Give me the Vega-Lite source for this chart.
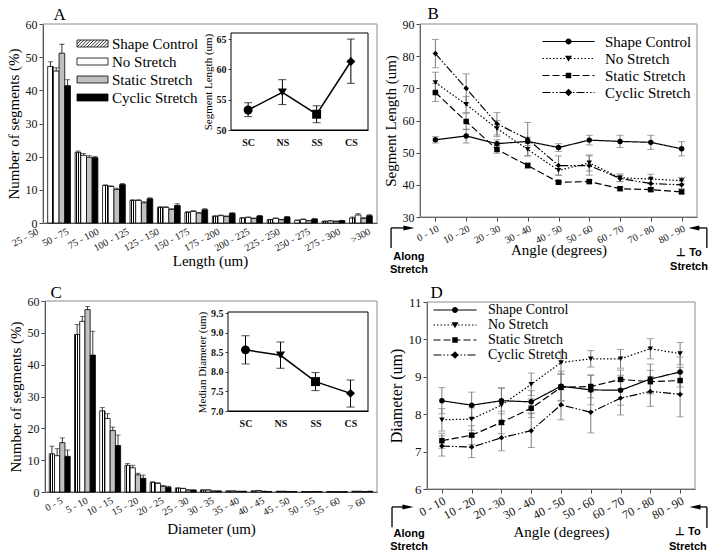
{
"$schema": "https://vega.github.io/schema/vega-lite/v6.json",
"width": 715, "height": 558, "autosize": "none", "padding": 0, "background": "white",
"config": {
  "view": {"stroke": null},
  "font": "Liberation Serif",
  "axis": {"grid": false, "zindex": 1, "labelFont": "Liberation Serif", "titleFont": "Liberation Serif", "labelColor": "#111", "titleColor": "#000", "titleFontWeight": "normal", "domainColor": "#444", "tickColor": "#444", "labelFontSize": 12, "titleFontSize": 15, "tickSize": 4},
  "legend": {"labelFont": "Liberation Serif", "labelColor": "#000", "padding": 0}
},
"resolve": {"scale": {"x": "independent", "y": "independent", "xOffset": "independent", "color": "independent", "shape": "independent", "strokeDash": "independent"}},
"layer": [
{
  "data": {"values": [{"f": 0}]},
  "mark": {"type": "rect", "fill": "white", "fillOpacity": 0, "stroke": "#8a8a8a", "strokeWidth": 1},
  "encoding": {
    "x": {"datum": 0, "type": "quantitative", "scale": {"domain": [0, 1], "range": [43, 377]}, "axis": {"orient": "top", "offset": -24, "domain": false, "ticks": false, "labels": false, "title": "A", "titleFontSize": 17, "titleAlign": "left", "titleBaseline": "alphabetic", "titleX": 53, "titleY": -5}},
    "x2": {"datum": 1},
    "y": {"datum": 0, "type": "quantitative", "scale": {"domain": [0, 1], "range": [223, 24]}, "axis": null},
    "y2": {"datum": 1}
  }
},
{
  "data": {"values": [
    {"cat": "25 - 50", "cond": "Shape Control", "v": 47.2, "hi": 48.6}, {"cat": "25 - 50", "cond": "No Stretch", "v": 45.8, "hi": 46.8}, {"cat": "25 - 50", "cond": "Static Stretch", "v": 51.2, "hi": 53.9}, {"cat": "25 - 50", "cond": "Cyclic Stretch", "v": 41.4, "hi": 43.2},
    {"cat": "50 - 75", "cond": "Shape Control", "v": 21.3, "hi": 21.7}, {"cat": "50 - 75", "cond": "No Stretch", "v": 20.4, "hi": 21.0}, {"cat": "50 - 75", "cond": "Static Stretch", "v": 19.8, "hi": 20.3}, {"cat": "50 - 75", "cond": "Cyclic Stretch", "v": 19.7, "hi": 20.1},
    {"cat": "75 - 100", "cond": "Shape Control", "v": 11.3, "hi": 11.5}, {"cat": "75 - 100", "cond": "No Stretch", "v": 11.0, "hi": 11.2}, {"cat": "75 - 100", "cond": "Static Stretch", "v": 10.1, "hi": 10.5}, {"cat": "75 - 100", "cond": "Cyclic Stretch", "v": 11.6, "hi": 11.9},
    {"cat": "100 - 125", "cond": "Shape Control", "v": 6.8, "hi": 7.0}, {"cat": "100 - 125", "cond": "No Stretch", "v": 6.8, "hi": 7.0}, {"cat": "100 - 125", "cond": "Static Stretch", "v": 6.1, "hi": 6.4}, {"cat": "100 - 125", "cond": "Cyclic Stretch", "v": 7.3, "hi": 7.6},
    {"cat": "125 - 150", "cond": "Shape Control", "v": 4.7, "hi": 4.9}, {"cat": "125 - 150", "cond": "No Stretch", "v": 4.7, "hi": 4.9}, {"cat": "125 - 150", "cond": "Static Stretch", "v": 4.1, "hi": 4.3}, {"cat": "125 - 150", "cond": "Cyclic Stretch", "v": 5.3, "hi": 5.8},
    {"cat": "150 - 175", "cond": "Shape Control", "v": 3.2, "hi": 3.4}, {"cat": "150 - 175", "cond": "No Stretch", "v": 3.5, "hi": 3.7}, {"cat": "150 - 175", "cond": "Static Stretch", "v": 3.0, "hi": 3.2}, {"cat": "150 - 175", "cond": "Cyclic Stretch", "v": 4.0, "hi": 4.3},
    {"cat": "175 - 200", "cond": "Shape Control", "v": 2.0, "hi": 2.2}, {"cat": "175 - 200", "cond": "No Stretch", "v": 2.2, "hi": 2.4}, {"cat": "175 - 200", "cond": "Static Stretch", "v": 2.0, "hi": 2.1}, {"cat": "175 - 200", "cond": "Cyclic Stretch", "v": 2.9, "hi": 3.1},
    {"cat": "200 - 225", "cond": "Shape Control", "v": 1.5, "hi": 1.6}, {"cat": "200 - 225", "cond": "No Stretch", "v": 1.7, "hi": 1.8}, {"cat": "200 - 225", "cond": "Static Stretch", "v": 1.4, "hi": 1.5}, {"cat": "200 - 225", "cond": "Cyclic Stretch", "v": 2.1, "hi": 2.3},
    {"cat": "225 - 250", "cond": "Shape Control", "v": 1.0, "hi": 1.1}, {"cat": "225 - 250", "cond": "No Stretch", "v": 1.4, "hi": 1.5}, {"cat": "225 - 250", "cond": "Static Stretch", "v": 1.0, "hi": 1.1}, {"cat": "225 - 250", "cond": "Cyclic Stretch", "v": 1.8, "hi": 2.0},
    {"cat": "250 - 275", "cond": "Shape Control", "v": 0.8, "hi": 0.9}, {"cat": "250 - 275", "cond": "No Stretch", "v": 1.1, "hi": 1.2}, {"cat": "250 - 275", "cond": "Static Stretch", "v": 0.7, "hi": 0.8}, {"cat": "250 - 275", "cond": "Cyclic Stretch", "v": 1.2, "hi": 1.3},
    {"cat": "275 - 300", "cond": "Shape Control", "v": 0.5, "hi": 0.6}, {"cat": "275 - 300", "cond": "No Stretch", "v": 0.6, "hi": 0.7}, {"cat": "275 - 300", "cond": "Static Stretch", "v": 0.5, "hi": 0.6}, {"cat": "275 - 300", "cond": "Cyclic Stretch", "v": 0.7, "hi": 0.8},
    {"cat": ">300", "cond": "Shape Control", "v": 1.5, "hi": 1.8}, {"cat": ">300", "cond": "No Stretch", "v": 2.4, "hi": 2.8}, {"cat": ">300", "cond": "Static Stretch", "v": 1.4, "hi": 1.6}, {"cat": ">300", "cond": "Cyclic Stretch", "v": 2.2, "hi": 2.5}
  ]},
  "encoding": {
    "x": {"field": "cat", "type": "nominal", "scale": {"domain": ["25 - 50","50 - 75","75 - 100","100 - 125","125 - 150","150 - 175","175 - 200","200 - 225","225 - 250","250 - 275","275 - 300",">300"], "range": [43, 377], "paddingInner": 0.17, "paddingOuter": 0.17}, "axis": {"orient": "bottom", "offset": -335, "labels": false, "ticks": false, "title": null, "domainColor": "#222"}},
    "xOffset": {"field": "cond", "type": "nominal", "scale": {"domain": ["Shape Control","No Stretch","Static Stretch","Cyclic Stretch"]}},
    "y": {"field": "v", "type": "quantitative", "scale": {"domain": [0, 60], "range": [223, 24], "nice": false}, "axis": {"orient": "left", "offset": -43, "values": [0,10,20,30,40,50,60], "title": "Number of segments (%)", "domainColor": "#222"}}
  },
  "layer": [
    {"mark": {"type": "bar", "stroke": "#000", "strokeWidth": 0.8},
     "encoding": {"color": {
       "condition": {"test": "datum.cond === 'Shape Control'", "value": {"gradient":"linear","x1":0,"y1":0,"x2":1,"y2":0,"stops":[{"offset":0,"color":"#ffffff"},{"offset":0.18,"color":"#ffffff"},{"offset":0.18,"color":"#000000"},{"offset":0.32,"color":"#000000"},{"offset":0.32,"color":"#ffffff"},{"offset":0.5,"color":"#ffffff"},{"offset":0.5,"color":"#000000"},{"offset":0.64,"color":"#000000"},{"offset":0.64,"color":"#ffffff"},{"offset":0.82,"color":"#ffffff"},{"offset":0.82,"color":"#000000"},{"offset":0.96,"color":"#000000"},{"offset":0.96,"color":"#ffffff"},{"offset":1,"color":"#ffffff"}]}},
       "field": "cond", "type": "nominal",
       "scale": {"domain": ["Shape Control","No Stretch","Static Stretch","Cyclic Stretch"], "range": ["#ffffff", "#ffffff", "#c0c0c0", "#000000"]},
       "legend": {"orient": "none", "legendX": 85, "legendY": 36, "title": null, "symbolType": "M-3.1,-0.7H3.1V0.7H-3.1Z", "symbolSize": 100, "labelOffset": 12, "labelFontSize": 15, "rowPadding": 2, "symbolStrokeColor": "#000", "symbolStrokeWidth": 0.8, "padding": 0}
     }}},
    {"mark": {"type": "rule", "color": "#000", "strokeWidth": 0.8}, "encoding": {"y2": {"field": "hi"}}},
    {"mark": {"type": "tick", "color": "#000", "size": 5, "thickness": 0.8}, "encoding": {"y": {"field": "hi", "type": "quantitative"}}}
  ]
},
{
  "data": {"values": [{"cat": "25 - 50"},{"cat": "50 - 75"},{"cat": "75 - 100"},{"cat": "100 - 125"},{"cat": "125 - 150"},{"cat": "150 - 175"},{"cat": "175 - 200"},{"cat": "200 - 225"},{"cat": "225 - 250"},{"cat": "250 - 275"},{"cat": "275 - 300"},{"cat": ">300"}]},
  "mark": {"type": "point", "opacity": 0},
  "encoding": {
    "x": {"field": "cat", "type": "nominal", "scale": {"type": "point", "domain": ["25 - 50","50 - 75","75 - 100","100 - 125","125 - 150","150 - 175","175 - 200","200 - 225","225 - 250","250 - 275","275 - 300",">300"], "range": [35, 367], "padding": 0}, "axis": {"orient": "bottom", "offset": -335, "domain": false, "ticks": false, "labelAngle": -28, "labelFontSize": 10, "labelPadding": 3, "title": "Length (um)", "titleX": 210, "titleY": 30}}
  }
},
{
  "data": {"values": [{"cond": "Shape Control"}, {"cond": "No Stretch"}, {"cond": "Static Stretch"}, {"cond": "Cyclic Stretch"}]},
  "mark": {"type": "point", "filled": false, "color": "#000", "strokeWidth": 0.8, "opacity": 1, "clip": true},
  "encoding": {
    "x": {"datum": 0.5, "type": "quantitative", "scale": {"domain": [0, 1], "range": [0, 10]}, "axis": null},
    "y": {"datum": 0.5, "type": "quantitative", "scale": {"domain": [0, 1], "range": [-200, -100]}, "axis": null},
    "shape": {"field": "cond", "type": "nominal", "scale": {"domain": ["Shape Control","No Stretch","Static Stretch","Cyclic Stretch"], "range": ["M-3.1,0.06L-2.34,-0.7M-3.08,0.7L-1.68,-0.7M-2.42,0.7L-1.02,-0.7M-1.76,0.7L-0.36,-0.7M-1.1,0.7L0.3,-0.7M-0.44,0.7L0.96,-0.7M0.22,0.7L1.62,-0.7M0.88,0.7L2.28,-0.7M1.54,0.7L2.94,-0.7M2.2,0.7L3.1,-0.2M2.86,0.7L3.1,0.46", "M0,0L0,0", "M0,0L0,0", "M0,0L0,0"]},
      "legend": {"orient": "none", "legendX": 85, "legendY": 36, "title": null, "symbolSize": 100, "labelOffset": 12, "labelFontSize": 15, "rowPadding": 2, "labelOpacity": 0, "symbolStrokeColor": "#000", "symbolStrokeWidth": 0.8, "padding": 0}}
  }
},
{
  "data": {"values": [{"f": 0}]},
  "mark": {"type": "rect", "fill": "white", "stroke": "#000", "strokeWidth": 1},
  "encoding": {
    "x": {"datum": 0, "type": "quantitative", "scale": {"domain": [0, 1], "range": [231, 368]}, "axis": null},
    "x2": {"datum": 1},
    "y": {"datum": 0, "type": "quantitative", "scale": {"domain": [0, 1], "range": [130, 33]}, "axis": null},
    "y2": {"datum": 1}
  }
},
{
  "data": {"values": [
    {"g": "SC", "v": 53.3, "lo": 52.2, "hi": 54.5}, {"g": "NS", "v": 56.2, "lo": 54.2, "hi": 58.3}, {"g": "SS", "v": 52.6, "lo": 51.2, "hi": 54.0}, {"g": "CS", "v": 61.3, "lo": 57.7, "hi": 65.0}
  ]},
  "encoding": {
    "x": {"field": "g", "type": "nominal", "scale": {"type": "point", "domain": ["SC","NS","SS","CS"], "range": [231, 368], "padding": 0.5}, "axis": {"orient": "bottom", "offset": -428, "ticks": false, "labelAngle": 0, "labelFontWeight": "bold", "labelFontSize": 10, "labelPadding": 7, "title": null, "domainColor": "#000"}},
    "y": {"field": "v", "type": "quantitative", "scale": {"domain": [50, 66], "range": [130, 33], "nice": false, "zero": false}, "axis": {"orient": "left", "offset": -231, "values": [50, 55, 60, 65], "labelFontWeight": "bold", "labelFontSize": 10, "tickSize": 3, "title": "Segment Length (um)", "titleFontSize": 11, "titlePadding": 3, "domainColor": "#000"}}
  },
  "layer": [
    {"mark": {"type": "line", "color": "#000", "strokeWidth": 1.5}},
    {"mark": {"type": "rule", "color": "#000", "strokeWidth": 1}, "encoding": {"y": {"field": "lo", "type": "quantitative"}, "y2": {"field": "hi"}}},
    {"mark": {"type": "tick", "color": "#000", "size": 8, "thickness": 1}, "encoding": {"y": {"field": "lo", "type": "quantitative"}}},
    {"mark": {"type": "tick", "color": "#000", "size": 8, "thickness": 1}, "encoding": {"y": {"field": "hi", "type": "quantitative"}}},
    {"mark": {"type": "point", "filled": true, "color": "#000", "size": 80, "opacity": 1}, "encoding": {"shape": {"field": "g", "type": "nominal", "scale": {"domain": ["SC","NS","SS","CS"], "range": ["circle","triangle-down","square","diamond"]}, "legend": null}}}
  ]
},
{
  "data": {"values": [{"f": 0}]},
  "mark": {"type": "rect", "fill": "white", "fillOpacity": 0, "stroke": "#8a8a8a", "strokeWidth": 1},
  "encoding": {
    "x": {"datum": 0, "type": "quantitative", "scale": {"domain": [0, 1], "range": [420, 697]}, "axis": {"orient": "top", "offset": -24, "domain": false, "ticks": false, "labels": false, "title": "B", "titleFontSize": 17, "titleAlign": "left", "titleBaseline": "alphabetic", "titleX": 427, "titleY": -6}},
    "x2": {"datum": 1},
    "y": {"datum": 0, "type": "quantitative", "scale": {"domain": [0, 1], "range": [217, 24]}, "axis": null},
    "y2": {"datum": 1}
  }
},
{
  "data": {"values": [
    {"a": "0 - 10", "s": "Shape Control", "v": 54.0, "lo": 53.0, "hi": 55.0}, {"a": "10 - 20", "s": "Shape Control", "v": 55.2, "lo": 53.0, "hi": 57.3}, {"a": "20 - 30", "s": "Shape Control", "v": 52.8, "lo": 51.6, "hi": 54.0}, {"a": "30 - 40", "s": "Shape Control", "v": 53.5, "lo": 52.2, "hi": 54.8}, {"a": "40 - 50", "s": "Shape Control", "v": 51.6, "lo": 50.4, "hi": 52.8}, {"a": "50 - 60", "s": "Shape Control", "v": 53.9, "lo": 52.4, "hi": 55.4}, {"a": "60 - 70", "s": "Shape Control", "v": 53.5, "lo": 51.6, "hi": 55.4}, {"a": "70 - 80", "s": "Shape Control", "v": 53.2, "lo": 51.0, "hi": 55.4}, {"a": "80 - 90", "s": "Shape Control", "v": 51.2, "lo": 49.0, "hi": 53.4},
    {"a": "0 - 10", "s": "No Stretch", "v": 71.8, "lo": 68.6, "hi": 75.0}, {"a": "10 - 20", "s": "No Stretch", "v": 65.0, "lo": 62.5, "hi": 67.5}, {"a": "20 - 30", "s": "No Stretch", "v": 57.5, "lo": 55.0, "hi": 60.0}, {"a": "30 - 40", "s": "No Stretch", "v": 51.0, "lo": 49.0, "hi": 53.0}, {"a": "40 - 50", "s": "No Stretch", "v": 44.5, "lo": 43.0, "hi": 46.0}, {"a": "50 - 60", "s": "No Stretch", "v": 46.8, "lo": 44.3, "hi": 49.3}, {"a": "60 - 70", "s": "No Stretch", "v": 42.2, "lo": 41.0, "hi": 43.4}, {"a": "70 - 80", "s": "No Stretch", "v": 41.8, "lo": 40.3, "hi": 43.3}, {"a": "80 - 90", "s": "No Stretch", "v": 41.3, "lo": 40.3, "hi": 42.3},
    {"a": "0 - 10", "s": "Static Stretch", "v": 68.7, "lo": 65.9, "hi": 71.5}, {"a": "10 - 20", "s": "Static Stretch", "v": 59.7, "lo": 57.2, "hi": 62.2}, {"a": "20 - 30", "s": "Static Stretch", "v": 51.0, "lo": 49.8, "hi": 52.2}, {"a": "30 - 40", "s": "Static Stretch", "v": 46.0, "lo": 45.2, "hi": 46.8}, {"a": "40 - 50", "s": "Static Stretch", "v": 40.8, "lo": 40.3, "hi": 41.3}, {"a": "50 - 60", "s": "Static Stretch", "v": 41.0, "lo": 40.5, "hi": 41.5}, {"a": "60 - 70", "s": "Static Stretch", "v": 38.8, "lo": 38.3, "hi": 39.3}, {"a": "70 - 80", "s": "Static Stretch", "v": 38.5, "lo": 38.0, "hi": 39.0}, {"a": "80 - 90", "s": "Static Stretch", "v": 37.8, "lo": 37.3, "hi": 38.3},
    {"a": "0 - 10", "s": "Cyclic Stretch", "v": 80.8, "lo": 76.4, "hi": 85.2}, {"a": "10 - 20", "s": "Cyclic Stretch", "v": 70.0, "lo": 65.5, "hi": 74.5}, {"a": "20 - 30", "s": "Cyclic Stretch", "v": 59.0, "lo": 55.5, "hi": 62.5}, {"a": "30 - 40", "s": "Cyclic Stretch", "v": 54.2, "lo": 49.0, "hi": 59.4}, {"a": "40 - 50", "s": "Cyclic Stretch", "v": 46.0, "lo": 43.0, "hi": 49.0}, {"a": "50 - 60", "s": "Cyclic Stretch", "v": 46.0, "lo": 43.0, "hi": 49.0}, {"a": "60 - 70", "s": "Cyclic Stretch", "v": 42.0, "lo": 41.0, "hi": 43.0}, {"a": "70 - 80", "s": "Cyclic Stretch", "v": 40.4, "lo": 38.9, "hi": 41.9}, {"a": "80 - 90", "s": "Cyclic Stretch", "v": 40.0, "lo": 38.8, "hi": 41.2}
  ]},
  "encoding": {
    "x": {"field": "a", "type": "nominal", "scale": {"type": "point", "domain": ["0 - 10","10 - 20","20 - 30","30 - 40","40 - 50","50 - 60","60 - 70","70 - 80","80 - 90"], "range": [420, 697], "padding": 0.5}, "axis": {"orient": "bottom", "offset": -341, "labelAngle": -28, "labelFontSize": 10, "title": "Angle (degrees)", "titleY": 25}},
    "y": {"field": "v", "type": "quantitative", "scale": {"domain": [30, 90], "range": [217, 24], "nice": false, "zero": false}, "axis": {"orient": "left", "offset": -420, "values": [30,40,50,60,70,80,90], "title": "Segment Length (um)"}}
  },
  "layer": [
    {"mark": {"type": "rule", "color": "#7a7a7a", "strokeWidth": 1}, "encoding": {"y": {"field": "lo", "type": "quantitative"}, "y2": {"field": "hi"}}},
    {"mark": {"type": "tick", "color": "#7a7a7a", "size": 7, "thickness": 1}, "encoding": {"y": {"field": "lo", "type": "quantitative"}}},
    {"mark": {"type": "tick", "color": "#7a7a7a", "size": 7, "thickness": 1}, "encoding": {"y": {"field": "hi", "type": "quantitative"}}},
    {"mark": {"type": "line", "color": "#000", "strokeWidth": 1.2}, "encoding": {"strokeDash": {"field": "s", "type": "nominal", "scale": {"domain": ["Shape Control","No Stretch","Static Stretch","Cyclic Stretch"], "range": [[1,0],[1.5,2],[7,3],[8,2,1.5,2,1.5,2]]}, "legend": null}}},
    {"mark": {"type": "point", "filled": true, "color": "#000", "size": 30, "opacity": 1}, "encoding": {"shape": {"field": "s", "type": "nominal", "scale": {"domain": ["Shape Control","No Stretch","Static Stretch","Cyclic Stretch"], "range": ["circle","triangle-down","square","diamond"]}, "legend": null}}}
  ]
},
{
  "encoding": {
    "x": {"field": "a", "type": "quantitative", "scale": {"domain": [0, 90], "range": [420, 697], "zero": false, "nice": false}, "axis": null},
    "y": {"field": "v", "type": "quantitative", "scale": {"domain": [30, 90], "range": [217, 24], "zero": false, "nice": false}, "axis": null}
  },
  "layer": [
    {"data": {"values": [{"a": -9.4, "v": 20.4, "a2": -9.4, "v2": 26.6}, {"a": -9.4, "v": 26.6, "a2": -3.6, "v2": 26.6}, {"a": 93.2, "v": 20.4, "a2": 93.2, "v2": 26.6}, {"a": 93.2, "v": 26.6, "a2": 89.0, "v2": 26.6}]},
     "mark": {"type": "rule", "color": "#000", "strokeWidth": 1.3}, "encoding": {"x2": {"field": "a2"}, "y2": {"field": "v2"}}},
    {"data": {"values": [{"a": -3.6, "v": 26.6, "dir": "right"}, {"a": 89.0, "v": 26.6, "dir": "left"}]},
     "mark": {"type": "point", "filled": true, "color": "#000", "size": 120, "opacity": 1},
     "encoding": {"shape": {"field": "dir", "type": "nominal", "scale": {"domain": ["right","left"], "range": ["M-1,-0.45L1,0L-1,0.45Z","M1,-0.45L-1,0L1,0.45Z"]}, "legend": null}}},
    {"data": {"values": [{"a": -3.6, "v": 17.6, "t": "Along"}, {"a": -3.6, "v": 13.5, "t": "Stretch"}, {"a": 87.4, "v": 18.8, "t": "⊥ To"}, {"a": 87.4, "v": 14.45, "t": "Stretch"}]},
     "mark": {"type": "text", "font": "Liberation Sans", "fontWeight": "bold", "fontSize": 11, "color": "#000", "align": "center", "baseline": "middle"},
     "encoding": {"text": {"field": "t"}}}
  ]
},
{
  "data": {"values": [{"f": 0}]},
  "mark": {"type": "rect", "fill": "white", "fillOpacity": 0, "stroke": "#8a8a8a", "strokeWidth": 1},
  "encoding": {
    "x": {"datum": 0, "type": "quantitative", "scale": {"domain": [0, 1], "range": [45, 377]}, "axis": {"orient": "top", "offset": -301, "domain": false, "ticks": false, "labels": false, "title": "C", "titleFontSize": 17, "titleAlign": "left", "titleBaseline": "alphabetic", "titleX": 50, "titleY": -4}},
    "x2": {"datum": 1},
    "y": {"datum": 0, "type": "quantitative", "scale": {"domain": [0, 1], "range": [492, 301]}, "axis": null},
    "y2": {"datum": 1}
  }
},
{
  "data": {"values": [
    {"cat": "0 - 5", "cond": "Shape Control", "v": 12.0, "hi": 14.4}, {"cat": "0 - 5", "cond": "No Stretch", "v": 11.4, "hi": 13.6}, {"cat": "0 - 5", "cond": "Static Stretch", "v": 15.5, "hi": 17.0}, {"cat": "0 - 5", "cond": "Cyclic Stretch", "v": 11.2, "hi": 13.2},
    {"cat": "5 - 10", "cond": "Shape Control", "v": 49.5, "hi": 52.6}, {"cat": "5 - 10", "cond": "No Stretch", "v": 53.6, "hi": 55.1}, {"cat": "5 - 10", "cond": "Static Stretch", "v": 57.3, "hi": 58.3}, {"cat": "5 - 10", "cond": "Cyclic Stretch", "v": 43.0, "hi": 50.5},
    {"cat": "10 - 15", "cond": "Shape Control", "v": 25.5, "hi": 26.5}, {"cat": "10 - 15", "cond": "No Stretch", "v": 23.1, "hi": 24.6}, {"cat": "10 - 15", "cond": "Static Stretch", "v": 19.3, "hi": 20.4}, {"cat": "10 - 15", "cond": "Cyclic Stretch", "v": 14.6, "hi": 17.9},
    {"cat": "15 - 20", "cond": "Shape Control", "v": 8.4, "hi": 8.9}, {"cat": "15 - 20", "cond": "No Stretch", "v": 7.6, "hi": 8.4}, {"cat": "15 - 20", "cond": "Static Stretch", "v": 5.4, "hi": 5.9}, {"cat": "15 - 20", "cond": "Cyclic Stretch", "v": 4.3, "hi": 5.3},
    {"cat": "20 - 25", "cond": "Shape Control", "v": 3.0, "hi": 3.2}, {"cat": "20 - 25", "cond": "No Stretch", "v": 2.7, "hi": 2.9}, {"cat": "20 - 25", "cond": "Static Stretch", "v": 1.8, "hi": 2.0}, {"cat": "20 - 25", "cond": "Cyclic Stretch", "v": 1.5, "hi": 1.8},
    {"cat": "25 - 30", "cond": "Shape Control", "v": 1.2, "hi": 1.3}, {"cat": "25 - 30", "cond": "No Stretch", "v": 1.1, "hi": 1.2}, {"cat": "25 - 30", "cond": "Static Stretch", "v": 0.6, "hi": 0.7}, {"cat": "25 - 30", "cond": "Cyclic Stretch", "v": 0.6, "hi": 0.7},
    {"cat": "30 - 35", "cond": "Shape Control", "v": 0.6, "hi": 0.7}, {"cat": "30 - 35", "cond": "No Stretch", "v": 0.6, "hi": 0.7}, {"cat": "30 - 35", "cond": "Static Stretch", "v": 0.3, "hi": 0.35}, {"cat": "30 - 35", "cond": "Cyclic Stretch", "v": 0.3, "hi": 0.35},
    {"cat": "35 - 40", "cond": "Shape Control", "v": 0.3, "hi": 0.35}, {"cat": "35 - 40", "cond": "No Stretch", "v": 0.3, "hi": 0.35}, {"cat": "35 - 40", "cond": "Static Stretch", "v": 0.2, "hi": 0.25}, {"cat": "35 - 40", "cond": "Cyclic Stretch", "v": 0.2, "hi": 0.25},
    {"cat": "40 - 45", "cond": "Shape Control", "v": 0.3, "hi": 0.35}, {"cat": "40 - 45", "cond": "No Stretch", "v": 0.4, "hi": 0.5}, {"cat": "40 - 45", "cond": "Static Stretch", "v": 0.2, "hi": 0.25}, {"cat": "40 - 45", "cond": "Cyclic Stretch", "v": 0.1, "hi": 0.15},
    {"cat": "45 - 50", "cond": "Shape Control", "v": 0.2, "hi": 0.25}, {"cat": "45 - 50", "cond": "No Stretch", "v": 0.2, "hi": 0.25}, {"cat": "45 - 50", "cond": "Static Stretch", "v": 0.1, "hi": 0.12}, {"cat": "45 - 50", "cond": "Cyclic Stretch", "v": 0.1, "hi": 0.12},
    {"cat": "50 - 55", "cond": "Shape Control", "v": 0.1, "hi": 0.12}, {"cat": "50 - 55", "cond": "No Stretch", "v": 0.1, "hi": 0.12}, {"cat": "50 - 55", "cond": "Static Stretch", "v": 0.1, "hi": 0.12}, {"cat": "50 - 55", "cond": "Cyclic Stretch", "v": 0.1, "hi": 0.12},
    {"cat": "55 - 60", "cond": "Shape Control", "v": 0.1, "hi": 0.12}, {"cat": "55 - 60", "cond": "No Stretch", "v": 0.05, "hi": 0.06}, {"cat": "55 - 60", "cond": "Static Stretch", "v": 0.05, "hi": 0.06}, {"cat": "55 - 60", "cond": "Cyclic Stretch", "v": 0.05, "hi": 0.06},
    {"cat": "> 60", "cond": "Shape Control", "v": 0.2, "hi": 0.25}, {"cat": "> 60", "cond": "No Stretch", "v": 0.2, "hi": 0.25}, {"cat": "> 60", "cond": "Static Stretch", "v": 0.1, "hi": 0.12}, {"cat": "> 60", "cond": "Cyclic Stretch", "v": 0.2, "hi": 0.25}
  ]},
  "encoding": {
    "x": {"field": "cat", "type": "nominal", "scale": {"domain": ["0 - 5","5 - 10","10 - 15","15 - 20","20 - 25","25 - 30","30 - 35","35 - 40","40 - 45","45 - 50","50 - 55","55 - 60","> 60"], "range": [45, 377], "paddingInner": 0.17, "paddingOuter": 0.17}, "axis": {"orient": "bottom", "offset": -66, "ticks": false, "labelAngle": -28, "labelFontSize": 10, "labelPadding": 3, "title": "Diameter (um)", "domainColor": "#222"}},
    "xOffset": {"field": "cond", "type": "nominal", "scale": {"domain": ["Shape Control","No Stretch","Static Stretch","Cyclic Stretch"]}},
    "y": {"field": "v", "type": "quantitative", "scale": {"domain": [0, 60], "range": [492, 301], "nice": false}, "axis": {"orient": "left", "offset": -45, "values": [0,10,20,30,40,50,60], "title": "Number of segments (%)", "domainColor": "#222"}}
  },
  "layer": [
    {"mark": {"type": "bar", "stroke": "#000", "strokeWidth": 0.8},
     "encoding": {"color": {
       "condition": {"test": "datum.cond === 'Shape Control'", "value": {"gradient":"linear","x1":0,"y1":0,"x2":1,"y2":0,"stops":[{"offset":0,"color":"#ffffff"},{"offset":0.18,"color":"#ffffff"},{"offset":0.18,"color":"#000000"},{"offset":0.32,"color":"#000000"},{"offset":0.32,"color":"#ffffff"},{"offset":0.5,"color":"#ffffff"},{"offset":0.5,"color":"#000000"},{"offset":0.64,"color":"#000000"},{"offset":0.64,"color":"#ffffff"},{"offset":0.82,"color":"#ffffff"},{"offset":0.82,"color":"#000000"},{"offset":0.96,"color":"#000000"},{"offset":0.96,"color":"#ffffff"},{"offset":1,"color":"#ffffff"}]}},
       "field": "cond", "type": "nominal",
       "scale": {"domain": ["Shape Control","No Stretch","Static Stretch","Cyclic Stretch"], "range": ["#808080", "#ffffff", "#c0c0c0", "#000000"]},
       "legend": null
     }}},
    {"mark": {"type": "rule", "color": "#000", "strokeWidth": 0.8}, "encoding": {"y2": {"field": "hi"}}},
    {"mark": {"type": "tick", "color": "#000", "size": 5, "thickness": 0.8}, "encoding": {"y": {"field": "hi", "type": "quantitative"}}}
  ]
},
{
  "data": {"values": [{"f": 0}]},
  "mark": {"type": "rect", "fill": "white", "stroke": "#000", "strokeWidth": 1},
  "encoding": {
    "x": {"datum": 0, "type": "quantitative", "scale": {"domain": [0, 1], "range": [228, 368]}, "axis": null},
    "x2": {"datum": 1},
    "y": {"datum": 0, "type": "quantitative", "scale": {"domain": [0, 1], "range": [411, 312]}, "axis": null},
    "y2": {"datum": 1}
  }
},
{
  "data": {"values": [
    {"g": "SC", "v": 8.56, "lo": 8.20, "hi": 8.92}, {"g": "NS", "v": 8.42, "lo": 8.09, "hi": 8.76}, {"g": "SS", "v": 7.75, "lo": 7.52, "hi": 7.98}, {"g": "CS", "v": 7.45, "lo": 7.10, "hi": 7.79}
  ]},
  "encoding": {
    "x": {"field": "g", "type": "nominal", "scale": {"type": "point", "domain": ["SC","NS","SS","CS"], "range": [228, 368], "padding": 0.5}, "axis": {"orient": "bottom", "offset": -147, "ticks": false, "labelAngle": 0, "labelFontWeight": "bold", "labelFontSize": 10, "labelPadding": 7, "title": null, "domainColor": "#000"}},
    "y": {"field": "v", "type": "quantitative", "scale": {"domain": [7, 9.5], "range": [411, 313], "nice": false, "zero": false}, "axis": {"orient": "left", "offset": -228, "values": [7, 7.5, 8, 8.5, 9, 9.5], "format": ".1f", "labelFontWeight": "bold", "labelFontSize": 10, "tickSize": 3, "title": "Median Diameter (um)", "titleFontSize": 11, "titlePadding": 3, "domainColor": "#000"}}
  },
  "layer": [
    {"mark": {"type": "line", "color": "#000", "strokeWidth": 1.5}},
    {"mark": {"type": "rule", "color": "#000", "strokeWidth": 1}, "encoding": {"y": {"field": "lo", "type": "quantitative"}, "y2": {"field": "hi"}}},
    {"mark": {"type": "tick", "color": "#000", "size": 8, "thickness": 1}, "encoding": {"y": {"field": "lo", "type": "quantitative"}}},
    {"mark": {"type": "tick", "color": "#000", "size": 8, "thickness": 1}, "encoding": {"y": {"field": "hi", "type": "quantitative"}}},
    {"mark": {"type": "point", "filled": true, "color": "#000", "size": 80, "opacity": 1}, "encoding": {"shape": {"field": "g", "type": "nominal", "scale": {"domain": ["SC","NS","SS","CS"], "range": ["circle","triangle-down","square","diamond"]}, "legend": null}}}
  ]
},
{
  "data": {"values": [{"f": 0}]},
  "mark": {"type": "rect", "fill": "white", "fillOpacity": 0, "stroke": "#8a8a8a", "strokeWidth": 1},
  "encoding": {
    "x": {"datum": 0, "type": "quantitative", "scale": {"domain": [0, 1], "range": [427, 695]}, "axis": {"orient": "top", "offset": -302, "domain": false, "ticks": false, "labels": false, "title": "D", "titleFontSize": 17, "titleAlign": "left", "titleBaseline": "alphabetic", "titleX": 430, "titleY": -5}},
    "x2": {"datum": 1},
    "y": {"datum": 0, "type": "quantitative", "scale": {"domain": [0, 1], "range": [489, 302]}, "axis": null},
    "y2": {"datum": 1}
  }
},
{
  "data": {"values": [
    {"a": "0 - 10", "s": "Shape Control", "v": 8.36, "lo": 8.01, "hi": 8.71}, {"a": "10 - 20", "s": "Shape Control", "v": 8.24, "lo": 7.89, "hi": 8.59}, {"a": "20 - 30", "s": "Shape Control", "v": 8.36, "lo": 8.01, "hi": 8.71}, {"a": "30 - 40", "s": "Shape Control", "v": 8.33, "lo": 8.03, "hi": 8.63}, {"a": "40 - 50", "s": "Shape Control", "v": 8.75, "lo": 8.35, "hi": 9.15}, {"a": "50 - 60", "s": "Shape Control", "v": 8.65, "lo": 8.25, "hi": 9.05}, {"a": "60 - 70", "s": "Shape Control", "v": 8.64, "lo": 8.24, "hi": 9.04}, {"a": "70 - 80", "s": "Shape Control", "v": 8.94, "lo": 8.54, "hi": 9.34}, {"a": "80 - 90", "s": "Shape Control", "v": 9.13, "lo": 8.73, "hi": 9.53},
    {"a": "0 - 10", "s": "No Stretch", "v": 7.85, "lo": 7.55, "hi": 8.15}, {"a": "10 - 20", "s": "No Stretch", "v": 7.87, "lo": 7.57, "hi": 8.17}, {"a": "20 - 30", "s": "No Stretch", "v": 8.24, "lo": 7.79, "hi": 8.69}, {"a": "30 - 40", "s": "No Stretch", "v": 8.8, "lo": 8.5, "hi": 9.1}, {"a": "40 - 50", "s": "No Stretch", "v": 9.38, "lo": 9.08, "hi": 9.68}, {"a": "50 - 60", "s": "No Stretch", "v": 9.48, "lo": 9.26, "hi": 9.70}, {"a": "60 - 70", "s": "No Stretch", "v": 9.48, "lo": 9.23, "hi": 9.73}, {"a": "70 - 80", "s": "No Stretch", "v": 9.75, "lo": 9.48, "hi": 10.02}, {"a": "80 - 90", "s": "No Stretch", "v": 9.62, "lo": 9.32, "hi": 9.92},
    {"a": "0 - 10", "s": "Static Stretch", "v": 7.29, "lo": 7.09, "hi": 7.49}, {"a": "10 - 20", "s": "Static Stretch", "v": 7.44, "lo": 7.19, "hi": 7.69}, {"a": "20 - 30", "s": "Static Stretch", "v": 7.78, "lo": 7.48, "hi": 8.08}, {"a": "30 - 40", "s": "Static Stretch", "v": 8.16, "lo": 7.91, "hi": 8.41}, {"a": "40 - 50", "s": "Static Stretch", "v": 8.72, "lo": 8.37, "hi": 9.07}, {"a": "50 - 60", "s": "Static Stretch", "v": 8.74, "lo": 8.44, "hi": 9.04}, {"a": "60 - 70", "s": "Static Stretch", "v": 8.93, "lo": 8.68, "hi": 9.18}, {"a": "70 - 80", "s": "Static Stretch", "v": 8.87, "lo": 8.57, "hi": 9.17}, {"a": "80 - 90", "s": "Static Stretch", "v": 8.90, "lo": 8.55, "hi": 9.25},
    {"a": "0 - 10", "s": "Cyclic Stretch", "v": 7.15, "lo": 6.88, "hi": 7.42}, {"a": "10 - 20", "s": "Cyclic Stretch", "v": 7.12, "lo": 6.84, "hi": 7.40}, {"a": "20 - 30", "s": "Cyclic Stretch", "v": 7.37, "lo": 7.02, "hi": 7.72}, {"a": "30 - 40", "s": "Cyclic Stretch", "v": 7.56, "lo": 7.11, "hi": 8.01}, {"a": "40 - 50", "s": "Cyclic Stretch", "v": 8.25, "lo": 7.85, "hi": 8.65}, {"a": "50 - 60", "s": "Cyclic Stretch", "v": 8.05, "lo": 7.50, "hi": 8.60}, {"a": "60 - 70", "s": "Cyclic Stretch", "v": 8.43, "lo": 7.98, "hi": 8.88}, {"a": "70 - 80", "s": "Cyclic Stretch", "v": 8.61, "lo": 8.21, "hi": 9.01}, {"a": "80 - 90", "s": "Cyclic Stretch", "v": 8.53, "lo": 7.93, "hi": 9.13}
  ]},
  "encoding": {
    "x": {"field": "a", "type": "nominal", "scale": {"type": "point", "domain": ["0 - 10","10 - 20","20 - 30","30 - 40","40 - 50","50 - 60","60 - 70","70 - 80","80 - 90"], "range": [427, 695], "padding": 0.5}, "axis": {"orient": "bottom", "offset": -69, "labelAngle": -28, "labelFontSize": 12, "title": "Angle (degrees)"}},
    "y": {"field": "v", "type": "quantitative", "scale": {"domain": [6, 11], "range": [489, 302], "nice": false, "zero": false}, "axis": {"orient": "left", "offset": -427, "values": [6,7,8,9,10,11], "labelFontSize": 13, "title": "Diameter (um)", "titleFontSize": 16}}
  },
  "layer": [
    {"mark": {"type": "rule", "color": "#7a7a7a", "strokeWidth": 1}, "encoding": {"y": {"field": "lo", "type": "quantitative"}, "y2": {"field": "hi"}}},
    {"mark": {"type": "tick", "color": "#7a7a7a", "size": 7, "thickness": 1}, "encoding": {"y": {"field": "lo", "type": "quantitative"}}},
    {"mark": {"type": "tick", "color": "#7a7a7a", "size": 7, "thickness": 1}, "encoding": {"y": {"field": "hi", "type": "quantitative"}}},
    {"mark": {"type": "line", "color": "#000", "strokeWidth": 1.2}, "encoding": {"strokeDash": {"field": "s", "type": "nominal", "scale": {"domain": ["Shape Control","No Stretch","Static Stretch","Cyclic Stretch"], "range": [[1,0],[1.5,2],[7,3],[8,2,1.5,2,1.5,2]]}, "legend": null}}},
    {"mark": {"type": "point", "filled": true, "color": "#000", "size": 30, "opacity": 1}, "encoding": {"shape": {"field": "s", "type": "nominal", "scale": {"domain": ["Shape Control","No Stretch","Static Stretch","Cyclic Stretch"], "range": ["circle","triangle-down","square","diamond"]}, "legend": null}}}
  ]
},
{
  "encoding": {
    "x": {"field": "a", "type": "quantitative", "scale": {"domain": [0, 90], "range": [427, 695], "zero": false, "nice": false}, "axis": null},
    "y": {"field": "v", "type": "quantitative", "scale": {"domain": [6, 11], "range": [489, 302], "zero": false, "nice": false}, "axis": null}
  },
  "layer": [
    {"data": {"values": [{"a": -11.75, "v": 4.98, "a2": -11.75, "v2": 5.52}, {"a": -11.75, "v": 5.52, "a2": -6.4, "v2": 5.52}, {"a": 94.0, "v": 4.96, "a2": 94.0, "v2": 5.52}, {"a": 94.0, "v": 5.52, "a2": 90.0, "v2": 5.52}]},
     "mark": {"type": "rule", "color": "#000", "strokeWidth": 1.3}, "encoding": {"x2": {"field": "a2"}, "y2": {"field": "v2"}}},
    {"data": {"values": [{"a": -6.4, "v": 5.52, "dir": "right"}, {"a": 90.0, "v": 5.52, "dir": "left"}]},
     "mark": {"type": "point", "filled": true, "color": "#000", "size": 120, "opacity": 1},
     "encoding": {"shape": {"field": "dir", "type": "nominal", "scale": {"domain": ["right","left"], "range": ["M-1,-0.45L1,0L-1,0.45Z","M1,-0.45L-1,0L1,0.45Z"]}, "legend": null}}},
    {"data": {"values": [{"a": -6.0, "v": 4.80, "t": "Along"}, {"a": -6.0, "v": 4.45, "t": "Stretch"}, {"a": 87.6, "v": 4.85, "t": "⊥ To"}, {"a": 87.6, "v": 4.45, "t": "Stretch"}]},
     "mark": {"type": "text", "font": "Liberation Sans", "fontWeight": "bold", "fontSize": 11, "color": "#000", "align": "center", "baseline": "middle"},
     "encoding": {"text": {"field": "t"}}}
  ]
},
{
  "data": {"values": [{"s": "Shape Control"}, {"s": "No Stretch"}, {"s": "Static Stretch"}, {"s": "Cyclic Stretch"}]},
  "mark": {"type": "point", "filled": false, "color": "#000", "strokeWidth": 1.2, "opacity": 1, "clip": true},
  "encoding": {
    "x": {"datum": 0.5, "type": "quantitative", "scale": {"domain": [0, 1], "range": [0, 10]}, "axis": null},
    "y": {"datum": 0.5, "type": "quantitative", "scale": {"domain": [0, 1], "range": [-200, -100]}, "axis": null},
    "strokeDash": {"field": "s", "type": "nominal", "scale": {"domain": ["Shape Control","No Stretch","Static Stretch","Cyclic Stretch"], "range": [[1,0],[1.5,2],[7,3],[8,2,1.5,2,1.5,2]]},
      "legend": {"orient": "none", "legendX": 561, "legendY": 34, "title": null, "symbolType": "M-5.2,0H5.2", "symbolSize": 100, "labelOffset": 29, "labelFontSize": 15, "rowPadding": 1, "symbolStrokeColor": "#000", "symbolStrokeWidth": 1.2, "padding": 0}}
  }
},
{
  "data": {"values": [{"s": "Shape Control"}, {"s": "No Stretch"}, {"s": "Static Stretch"}, {"s": "Cyclic Stretch"}]},
  "mark": {"type": "point", "filled": true, "color": "#000", "opacity": 1, "clip": true},
  "encoding": {
    "x": {"datum": 0.5, "type": "quantitative", "scale": {"domain": [0, 1], "range": [0, 10]}, "axis": null},
    "y": {"datum": 0.5, "type": "quantitative", "scale": {"domain": [0, 1], "range": [-200, -100]}, "axis": null},
    "shape": {"field": "s", "type": "nominal", "scale": {"domain": ["Shape Control","No Stretch","Static Stretch","Cyclic Stretch"], "range": ["M0.6,0A0.6,0.6,0,1,1,-0.6,0A0.6,0.6,0,1,1,0.6,0Z", "M-0.7,-0.55L0.7,-0.55L0,0.65Z", "M-0.55,-0.55H0.55V0.55H-0.55Z", "M0,-0.75L0.75,0L0,0.75L-0.75,0Z"]},
      "legend": {"orient": "none", "legendX": 561, "legendY": 34, "title": null, "symbolSize": 100, "labelOffset": 29, "labelFontSize": 15, "rowPadding": 1, "labelOpacity": 0, "symbolStrokeWidth": 1.2, "padding": 0}}
  }
},
{
  "data": {"values": [{"s": "Shape Control"}, {"s": "No Stretch"}, {"s": "Static Stretch"}, {"s": "Cyclic Stretch"}]},
  "mark": {"type": "point", "filled": false, "color": "#000", "strokeWidth": 1.2, "opacity": 1, "clip": true},
  "encoding": {
    "x": {"datum": 0.5, "type": "quantitative", "scale": {"domain": [0, 1], "range": [0, 10]}, "axis": null},
    "y": {"datum": 0.5, "type": "quantitative", "scale": {"domain": [0, 1], "range": [-200, -100]}, "axis": null},
    "strokeDash": {"field": "s", "type": "nominal", "scale": {"domain": ["Shape Control","No Stretch","Static Stretch","Cyclic Stretch"], "range": [[1,0],[1.5,2],[7,3],[8,2,1.5,2,1.5,2]]},
      "legend": {"orient": "none", "legendX": 448, "legendY": 303, "title": null, "symbolType": "M-4.3,0H4.3", "symbolSize": 100, "labelOffset": 26, "labelFontSize": 14, "rowPadding": 1, "symbolStrokeColor": "#000", "symbolStrokeWidth": 1.2, "padding": 0}}
  }
},
{
  "data": {"values": [{"s": "Shape Control"}, {"s": "No Stretch"}, {"s": "Static Stretch"}, {"s": "Cyclic Stretch"}]},
  "mark": {"type": "point", "filled": true, "color": "#000", "opacity": 1, "clip": true},
  "encoding": {
    "x": {"datum": 0.5, "type": "quantitative", "scale": {"domain": [0, 1], "range": [0, 10]}, "axis": null},
    "y": {"datum": 0.5, "type": "quantitative", "scale": {"domain": [0, 1], "range": [-200, -100]}, "axis": null},
    "shape": {"field": "s", "type": "nominal", "scale": {"domain": ["Shape Control","No Stretch","Static Stretch","Cyclic Stretch"], "range": ["M0.6,0A0.6,0.6,0,1,1,-0.6,0A0.6,0.6,0,1,1,0.6,0Z", "M-0.7,-0.55L0.7,-0.55L0,0.65Z", "M-0.55,-0.55H0.55V0.55H-0.55Z", "M0,-0.75L0.75,0L0,0.75L-0.75,0Z"]},
      "legend": {"orient": "none", "legendX": 448, "legendY": 303, "title": null, "symbolSize": 100, "labelOffset": 26, "labelFontSize": 14, "rowPadding": 1, "labelOpacity": 0, "symbolStrokeWidth": 1.2, "padding": 0}}
  }
}
]
}
